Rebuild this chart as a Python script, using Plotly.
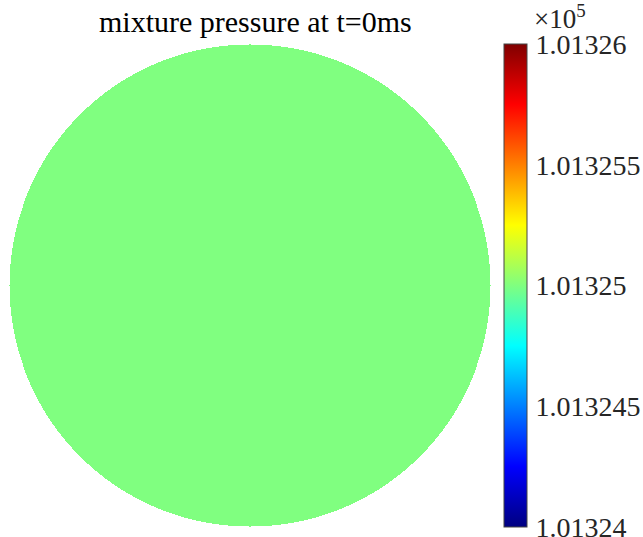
import numpy as np
import plotly.graph_objects as go

# Data
pressure_value = 101325.0          # mixture pressure at t=0 (Pa), uniform
cmin, cmax = 101324.0, 101326.0
tick_vals = [101324.0, 101324.5, 101325.0, 101325.5, 101326.0]
tick_text = ["1.01324", "1.013245", "1.01325", "1.013255", "1.01326"]
title_text = "mixture pressure at t=0ms"

# Domain grid (unit disc)
N = 481
xs = np.linspace(-1, 1, N)
ys = np.linspace(-1, 1, N)
X, Y = np.meshgrid(xs, ys)
Z = np.where(X**2 + Y**2 <= 1.0, pressure_value, np.nan)

jet = [[0.0, "rgb(0,0,128)"], [0.125, "rgb(0,0,255)"], [0.375, "rgb(0,255,255)"],
       [0.625, "rgb(255,255,0)"], [0.875, "rgb(255,0,0)"], [1.0, "rgb(128,0,0)"]]

font_family = "'Liberation Serif', 'Times New Roman', serif"

fig = go.Figure(go.Heatmap(
    x=xs, y=ys, z=Z, zmin=cmin, zmax=cmax, colorscale=jet, zsmooth=False,
    hoverongaps=False,
    colorbar=dict(
        x=(504 - 9) / 482, xanchor="left", y=0, yanchor="bottom",
        xpad=0, ypad=0,
        len=1, lenmode="fraction", thickness=23, thicknessmode="pixels",
        outlinewidth=1, outlinecolor="#444444",
        tickvals=tick_vals, ticktext=tick_text,
        ticks="outside", ticklen=3, tickcolor="rgba(0,0,0,0)",
        ticklabeloverflow="allow",
        tickfont=dict(family=font_family, size=28, color="#262626"),
    ),
))

fig.update_layout(
    width=643, height=537,
    margin=dict(l=9, r=152, t=44, b=10, autoexpand=False),
    paper_bgcolor="white", plot_bgcolor="white",
    xaxis=dict(range=[-1, 1], visible=False, showgrid=False),
    yaxis=dict(range=[-1, 1], visible=False, showgrid=False),
    annotations=[
        dict(text=title_text, x=(256 - 9) / 482, xref="paper", y=1 + (44 - 22) / 483, yref="paper",
             showarrow=False, font=dict(family=font_family, size=30, color="black"),
             xanchor="center", yanchor="middle"),
        dict(text="×10<sup>5</sup>", x=(532 - 9) / 482, xref="paper", y=1.0, yref="paper",
             showarrow=False, font=dict(family=font_family, size=27, color="#262626"),
             xanchor="left", yanchor="bottom", yshift=8),
    ],
)

fig.write_html("out.html")
